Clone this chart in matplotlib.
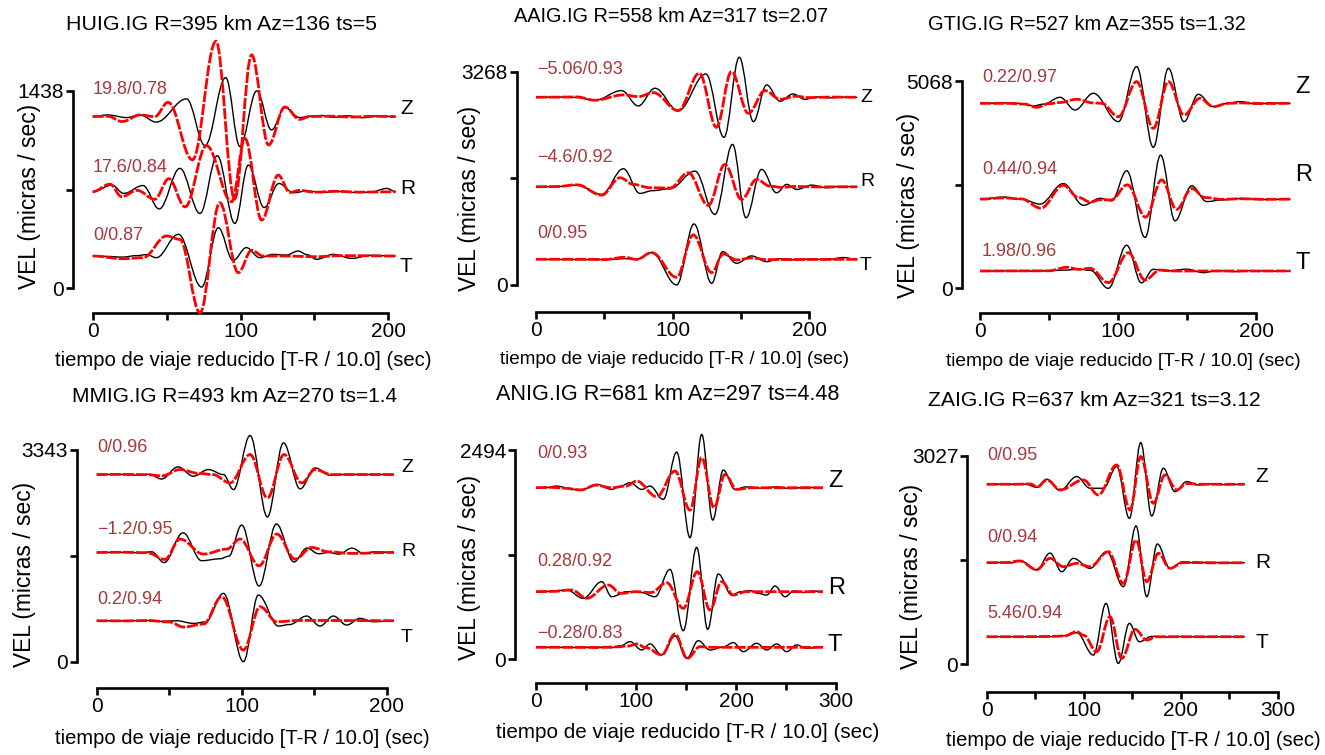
import matplotlib
matplotlib.use("Agg")
import matplotlib.pyplot as plt
import numpy as np
from matplotlib.path import Path
from matplotlib.patches import PathPatch

plt.rcParams["font.family"] = ["Liberation Sans", "DejaVu Sans"]

W, H = 1325, 755

# ---- station info -------------------------------------------------------
TITLES = [
    "HUIG.IG R=395 km Az=136 ts=5",
    "AAIG.IG R=558 km Az=317 ts=2.07",
    "GTIG.IG R=527 km Az=355 ts=1.32",
    "MMIG.IG R=493 km Az=270 ts=1.4",
    "ANIG.IG R=681 km Az=297 ts=4.48",
    "ZAIG.IG R=637 km Az=321 ts=3.12",
]
YMAX = [1438, 3268, 5068, 3343, 2494, 3027]
XMAX = [200, 200, 200, 200, 300, 300]
COMPONENTS = ["Z", "R", "T"]
# time shift / cross-correlation for Z, R, T
SHIFT_CC = [
    ["19.8/0.78", "17.6/0.84", "0/0.87"],
    ["\u22125.06/0.93", "\u22124.6/0.92", "0/0.95"],
    ["0.22/0.97", "0.44/0.94", "1.98/0.96"],
    ["0/0.96", "\u22121.2/0.95", "0.2/0.94"],
    ["0/0.93", "0.28/0.92", "\u22120.28/0.83"],
    ["0/0.95", "0/0.94", "5.46/0.94"],
]

# ---- waveforms: (time [s], velocity [micras/sec]) at the swing extrema ----
HUIG_Z_OBS = [(0, 0), (10, 12), (23, -7), (32, 12), (43, -40), (63.5, 129), (76, -211), (90, 284),
              (99.6, -218), (111, 187), (121, -97), (130, 66), (140, -7), (147, 3), (155, 8),
              (163, -5), (172, 6), (183, -8), (192, 5), (205, 0)]
HUIG_Z_SYN = [(0, 0), (10, 3), (20, -36), (32, 12), (42, 0), (51, 104), (67.5, -315), (83.4, 548),
              (96, -600), (107.5, 449), (119, -206), (130, 70), (140, -20), (147, 0), (160, 3),
              (175, -3), (190, 2), (205, 0)]
HUIG_R_OBS = [(0, 0), (13, 48), (21, -12), (34, 45), (45, -125), (59, 170), (72.6, -158),
              (84.3, 262), (96.2, -231), (105.3, 194), (116, -115), (126, 60), (135.7, -7),
              (145, 5), (155, -5), (165, 3), (175, -5), (188, -3), (199, 24), (205, 0)]
HUIG_R_SYN = [(0, 0), (11.7, 55), (19.6, -36), (30, 10), (42, -55), (51.5, 95), (62.5, -110),
              (77, 335), (94, -73), (103, 388), (114.3, -206), (125.5, 121), (133.4, -5),
              (140, 10), (150, -3), (165, 3), (180, -3), (205, 0)]
HUIG_T_OBS = [(0, 0), (10, -3), (20, -8), (30, 3), (36.5, 10), (43, -12), (58, 158), (73.7, -226),
              (85, 206), (95, -32), (104, 61), (113, -12), (122, 12), (131, 7), (139, 36),
              (145, 10), (151.5, -24), (162.8, 12), (175.2, -17), (188, 5), (205, 0)]
HUIG_T_SYN = [(0, 0), (20.7, -20), (34, -12), (50, 146), (59, 121), (72.6, -413), (86, 388),
              (98.5, -121), (107.5, 41), (115.4, 0), (130, 0), (150, -5), (170, 3), (205, 0)]

AAIG_Z_OBS = [(0, 0), (15, 5), (30, -3), (43, -45), (62.6, 102), (74.8, -133), (87, 138),
              (104, -204), (124.3, 357), (137.5, -613), (148.7, 613), (159, -373), (168.7, 189),
              (178.5, -60), (188, 51), (196.8, -31), (205, 5), (215, -8), (225, 3), (235, 0)]
AAIG_Z_SYN = [(0, 0), (20, 3), (30, 5), (43, -45), (63.9, 36), (75, 10), (85.8, 72), (104, -204),
              (119.5, 368), (132, -460), (143, 393), (155.3, -245), (167.5, 102), (178.5, -31),
              (190, 15), (200, -5), (215, 3), (235, 0)]
AAIG_R_OBS = [(0, 0), (15, 3), (29.8, 25), (48, -117), (63.9, 276), (76, -102), (85, -60),
              (98, -31), (116.3, 240), (130.9, -424), (143.8, 649), (153.6, -475), (165, 266),
              (176, -92), (183.4, 36), (190.7, -41), (201.7, 25), (212.7, -15), (222, 5), (235, 0)]
AAIG_R_SYN = [(0, 0), (15, 3), (30, 30), (48, -128), (61.4, 138), (71.2, 36), (83.4, -15),
              (98, -20), (111.4, 214), (126, -286), (138.2, 342), (150.4, -194), (161.4, 112),
              (171.1, 10), (180, -10), (190, 5), (205, -3), (235, 0)]
AAIG_T_OBS = [(0, 0), (20, -3), (40, -5), (55, 0), (65, 10), (73.6, 0), (84.6, 102), (102.9, -393),
              (115.6, 541), (128.5, -368), (136.5, 117), (146.8, -61), (157.7, 51), (168.7, -36),
              (178, 10), (190, -10), (200, 5), (212, -5), (225, 26), (235, -5)]
AAIG_T_SYN = [(0, 0), (40, 0), (50, -5), (65.1, 31), (73.6, -3), (84.6, 102), (102.9, -276),
              (115, 373), (128.5, -204), (137, 82), (146.8, -10), (157.7, 20), (168.7, -5), (235, 0)]

GTIG_Z_OBS = [(0, 0), (10, 3), (21.7, 15), (32, -10), (38.6, -65), (46, -20), (58, 147),
              (68.9, -163), (82.1, 245), (100.3, -448), (113.5, 897), (125.6, -1076),
              (136.5, 856), (147.8, -448), (158.2, 220), (169.1, -82), (178, -10), (188.4, 41),
              (200.5, -16), (212, 10), (225, 0)]
GTIG_Z_SYN = [(0, 0), (20, 0), (32, -20), (41, -98), (50, -10), (58, 20), (70, 98), (82, 10),
              (88, 0), (100.3, -326), (113.5, 530), (125.6, -611), (136.5, 530), (147.8, -285),
              (159.4, 122), (169.1, -82), (180, 0), (190, 10), (205, -5), (225, 0)]
GTIG_R_OBS = [(0, 0), (17, 50), (30, 0), (43.5, -120), (60.4, 380), (75, -150), (87, 20),
              (95.4, -41), (106.3, 693), (119.6, -937), (130.9, 1076), (141.3, -530), (153.4, 326),
              (164.3, -60), (175, -20), (190, 15), (205, -10), (225, 0)]
GTIG_R_SYN = [(0, 0), (17, 30), (30, 5), (44, -220), (60.4, 340), (71.3, 41), (80, -70),
              (87, -16), (95, -20), (106.8, 350), (120, -440), (131.6, 470), (142.5, -250),
              (153.4, 260), (163, 40), (175, -5), (190, 10), (205, -5), (225, 0)]
GTIG_T_OBS = [(0, 0), (20, 3), (40, -3), (60, 20), (72.5, 41), (80, 15), (93, -424), (106.3, 630),
              (117, -290), (125.6, 41), (135, 0), (149.8, 45), (161.8, -40), (172, 10),
              (185, -15), (198, 10), (212, -5), (225, 0)]
GTIG_T_SYN = [(0, 0), (30, 3), (50, 5), (62.8, 90), (72, 40), (79.7, 65), (93, -285),
              (107.5, 448), (119.6, -220), (130.4, 24), (140, 0), (225, 0)]

MMIG_Z_OBS = [(0, 0), (15, 3), (28, -8), (36, 5), (44.8, -70), (56, 121), (66.7, -26), (77, 79),
              (87.4, 0), (94.3, -237), (105.8, 616), (117.7, -669), (128.8, 500), (140.3, -226),
              (150.6, 105), (161, -10), (175, 3), (205, 0)]
MMIG_Z_SYN = [(0, 0), (20, 3), (35, -3), (45, -20), (57.5, 79), (70, 20), (80, 0), (92, -132),
              (105.8, 316), (117.7, -368), (129.2, 316), (141.4, -132), (150.6, 79), (162, 0),
              (205, 0)]
MMIG_R_OBS = [(0, 0), (15, 3), (30, -5), (38, 10), (46.5, -160), (59.5, 310), (72.4, -130),
              (85, -100), (91, -60), (100, 432), (112, -530), (123.9, 450), (136, -150),
              (145, 68), (153, -20), (160, 0), (167, -26), (176, 68), (184, -15), (192, 10),
              (205, 0)]
MMIG_R_SYN = [(0, 0), (20, 3), (35, -5), (47, -110), (57.5, 211), (73.6, -26), (89.7, 53),
              (98.9, 211), (112, -211), (124.2, 290), (136.8, -105), (148.3, 79), (160, 10),
              (175, -15), (205, 0)]
MMIG_T_OBS = [(0, 0), (20, -3), (35, 5), (45, -10), (55, 0), (66.7, -42), (75, -20), (87.4, 432),
              (101.2, -647), (111.5, 405), (125.3, -84), (133, -60), (144.8, 74), (154, -84),
              (163.2, 74), (172.4, -68), (181.6, 37), (190.8, -16), (205, 0)]
MMIG_T_SYN = [(0, 0), (20, -3), (35, 3), (50, -20), (60, -100), (73.6, -53), (86.2, 379),
              (101.2, -463), (112.7, 221), (124.2, -16), (140, 5), (205, 0)]

ANIG_Z_OBS = [(0, 0), (10, 3), (20.7, 20), (32, -5), (44, -32), (60.7, 40), (75.7, -20), (83, 10),
              (94, 60), (105.7, -20), (114, 20), (127.3, -139), (140.7, 425), (154, -596),
              (165.7, 636), (176.7, -385), (187.3, 211), (199, -20), (210, 10), (225, -5),
              (240, 10), (255, -10), (270, 5), (287, 0)]
ANIG_Z_SYN = [(0, 0), (15, 5), (25, -3), (45, -25), (60, 30), (75, 0), (90, 20), (100.7, 79),
              (120.7, -107), (139, 199), (154, -266), (165.7, 358), (178, -238), (189, 159),
              (200.7, -20), (215, 0), (287, 0)]
ANIG_R_OBS = [(0, 0), (15, 5), (30.7, 20), (47.3, -79), (65.7, 119), (75.7, -60), (90.7, 0),
              (105, -10), (119, -60), (134, 266), (147.3, -465), (160.7, 528), (171.7, -449),
              (182.3, 211), (195.7, -40), (205, 0), (214, 12), (222, -20), (230.7, -40),
              (239, 68), (249, -60), (258, 10), (268, -10), (277, 8), (287, 0)]
ANIG_R_SYN = [(0, 0), (15, 3), (35.7, 20), (50.7, -79), (72.3, 79), (85, -20), (100, 0),
              (115, -10), (130.7, 107), (147.3, -199), (161.3, 238), (174, -218), (185.7, 119),
              (197.3, -40), (210, 0), (287, 0)]
ANIG_T_OBS = [(0, 0), (20, 0), (40, -3), (60, 3), (75, -5), (85, 20), (94, 68), (105.7, -32),
              (114, 40), (125.7, -91), (139, 135), (150.7, -131), (162.3, 79), (174, -32),
              (187.3, 5), (197.3, 56), (207.3, -52), (220.7, 48), (230.7, -32), (240.7, 40),
              (250.7, -52), (260.7, 28), (270, -10), (287, 0)]
ANIG_T_SYN = [(0, 0), (40, 0), (60, -3), (80, 5), (92, 15), (100.7, 40), (110, -5), (125.7, -91),
              (139, 159), (151.3, -131), (164, 8), (175, 0), (287, 0)]

ZAIG_Z_OBS = [(0, 0), (15, 3), (30, 0), (40, 3), (51.5, -44), (61.9, 73), (75.6, -92),
              (92.8, 112), (106.5, -58), (120.3, -58), (134, 257), (147.1, -495), (158.8, 606),
              (170.1, -461), (182.1, 233), (194.1, -107), (206.2, 39), (218.2, -10), (230, 5),
              (245, -5), (266, 0)]
ZAIG_Z_SYN = [(0, 0), (30, 0), (45, 5), (52, -40), (62, 63), (76, -80), (99.7, 63), (115.1, -155),
              (134, 281), (147.8, -373), (158.8, 403), (171.8, -276), (183.8, 136), (195.9, -82),
              (206, 10), (220, 0), (266, 0)]
ZAIG_R_OBS = [(0, 0), (15, 3), (25, -3), (34.4, 29), (51.5, -107), (65.3, 140), (77.3, -131),
              (89.4, 63), (106.5, -82), (123.7, 160), (140.9, -349), (154, 534), (165, -495),
              (175.9, 272), (189, -82), (202.7, 15), (215, -5), (230, 5), (245, -3), (266, 0)]
ZAIG_R_SYN = [(0, 0), (20, 3), (34, 25), (51.5, -100), (65.3, 63), (79, -58), (92.8, -10),
              (106.5, -58), (125.4, 160), (140.9, -301), (154, 330), (165, -276), (177, 136),
              (189, -82), (202, 0), (215, 5), (230, -3), (266, 0)]
ZAIG_T_OBS = [(0, 0), (30, 0), (50, -3), (70, 3), (80, 15), (92.8, 58), (110, -267), (123, 485),
              (135.7, -388), (147.1, 194), (157.4, -73), (170, 5), (185, -5), (200, 3),
              (215, -3), (266, 0)]
ZAIG_T_SYN = [(0, 0), (40, 0), (60, 3), (80, 10), (92.8, 73), (100, 20), (113.4, -218),
              (127.1, 291), (139.2, -315), (152.9, 107), (165, -48), (175, 0), (266, 0)]

OBSERVED = [
    [HUIG_Z_OBS, HUIG_R_OBS, HUIG_T_OBS],
    [AAIG_Z_OBS, AAIG_R_OBS, AAIG_T_OBS],
    [GTIG_Z_OBS, GTIG_R_OBS, GTIG_T_OBS],
    [MMIG_Z_OBS, MMIG_R_OBS, MMIG_T_OBS],
    [ANIG_Z_OBS, ANIG_R_OBS, ANIG_T_OBS],
    [ZAIG_Z_OBS, ZAIG_R_OBS, ZAIG_T_OBS],
]
SYNTHETIC = [
    [HUIG_Z_SYN, HUIG_R_SYN, HUIG_T_SYN],
    [AAIG_Z_SYN, AAIG_R_SYN, AAIG_T_SYN],
    [GTIG_Z_SYN, GTIG_R_SYN, GTIG_T_SYN],
    [MMIG_Z_SYN, MMIG_R_SYN, MMIG_T_SYN],
    [ANIG_Z_SYN, ANIG_R_SYN, ANIG_T_SYN],
    [ZAIG_Z_SYN, ZAIG_R_SYN, ZAIG_T_SYN],
]

# ---- layout (figure pixels) ---------------------------------------------
# x of t=0, px per second, y of amplitude 0, units per px, y-axis x, x-axis y, right, top
GEOM = [
    (92.7, 1.478, 288.3, 7.28, 73.0, 313.0, 420, 40),
    (536.0, 1.367, 285.0, 15.32, 516.7, 311.7, 880, 40),
    (980.0, 1.380, 288.3, 24.45, 961.7, 313.3, 1320, 40),
    (96.7, 1.450, 661.7, 15.79, 76.7, 688.3, 420, 415),
    (536.0, 1.000, 659.3, 11.92, 515.0, 683.3, 880, 415),
    (986.7, 0.970, 664.0, 14.55, 967.3, 691.7, 1320, 415),
]
# trace offsets in each panel (Z, R, T)
OFFSETS = [
    (1250, 703, 235),
    (2876, 1505, 394),
    (4523, 2180, 423),
    (2955, 1725, 647),
    (2045, 806, 143),
    (2615, 1474, 397),
]
TITLE_XY = [(222, 25), (671, 17), (1087, 25), (235, 397), (668, 395), (1094, 400)]
TITLE_SIZE = [15.4, 14.3, 14.4, 15.0, 15.6, 15.2]
XLABEL_XY = [(243, 360), (675, 360), (1123, 362), (242, 738), (688, 732), (1133, 740)]
XLABEL_SIZE = [14.6, 13.6, 13.8, 14.5, 14.9, 14.5]
YLABEL_XY = [(30, 196), (470, 198), (909, 205), (25, 574), (470, 567), (911, 576)]
SHIFT_XY = [
    [(93, 90), (93, 167), (93, 235)],
    [(537, 70), (537, 157), (537, 233)],
    [(982, 77), (982, 169), (982, 251)],
    [(97, 447), (97, 530), (97, 599)],
    [(537, 454), (537, 562), (537, 634)],
    [(987, 456), (987, 537), (987, 613)],
]
COMP_XY = [
    [(400, 108), (400, 188), (400, 267)],
    [(860, 97), (860, 182), (860, 265)],
    [(1295, 87), (1295, 175), (1295, 263)],
    [(401, 467), (401, 552), (401, 637)],
    [(828, 481), (828, 588), (828, 645)],
    [(1255, 477), (1255, 562), (1255, 643)],
]
COMP_SIZE = [15, 14, 17, 14, 17, 15]


def fx(x):
    return x / W


def fy(y):
    return 1 - y / H


def wave_path(pairs, offset):
    # smooth waveform through the extrema, flat tangent at every turning point
    t = [p[0] for p in pairs]
    a = [p[1] + offset for p in pairs]
    verts = [(t[0], a[0])]
    codes = [Path.MOVETO]
    for i in range(1, len(t)):
        dt = t[i] - t[i - 1]
        verts += [(t[i - 1] + 0.37 * dt, a[i - 1]), (t[i] - 0.37 * dt, a[i]), (t[i], a[i])]
        codes += [Path.CURVE4] * 3
    return Path(verts, codes)


fig = plt.figure(figsize=(W / 100, H / 100), dpi=100)

for k in range(6):
    px0, ppx, py0, upx, yax, xax, right, top = GEOM[k]
    ax = fig.add_axes([fx(px0), fy(xax), (right - px0) / W, (xax - top) / H])
    ax.set_xlim(0, (right - px0) / ppx)
    ax.set_ylim((py0 - xax) * upx, (py0 - top) * upx)
    ax.patch.set_visible(False)
    for side in ("top", "right"):
        ax.spines[side].set_visible(False)
    ax.spines["left"].set_position(("outward", (px0 - yax) * 0.72))
    ax.spines["left"].set_bounds(0, YMAX[k])
    ax.spines["bottom"].set_bounds(0, XMAX[k])
    for side in ("left", "bottom"):
        ax.spines[side].set_linewidth(1.9)

    ax.set_yticks([0, YMAX[k] / 2, YMAX[k]])
    ax.set_yticklabels(["0", "", str(YMAX[k])])
    xt = np.arange(0, XMAX[k] + 1, 50)
    ax.set_xticks(xt)
    ax.set_xticklabels([str(v) if v % 100 == 0 else "" for v in xt])
    ax.tick_params(direction="out", length=5, width=1.9, labelsize=15, pad=1.5)

    for c in range(3):
        off = OFFSETS[k][c]
        ax.add_patch(PathPatch(wave_path(OBSERVED[k][c], off), fill=False,
                               edgecolor="black", lw=1.0, zorder=2, clip_on=False))
        ax.add_patch(PathPatch(wave_path(SYNTHETIC[k][c], off), fill=False,
                               edgecolor="#ff0000", lw=2.0, linestyle=(0, (4, 0.7)),
                               zorder=3, clip_on=False))
        sx, sy = SHIFT_XY[k][c]
        fig.text(fx(sx), fy(sy), SHIFT_CC[k][c], color="#a5393b", fontsize=13,
                 ha="left", va="center")
        cx, cy = COMP_XY[k][c]
        fig.text(fx(cx), fy(cy), COMPONENTS[c], fontsize=COMP_SIZE[k],
                 ha="left", va="center")

    tx, ty = TITLE_XY[k]
    fig.text(fx(tx), fy(ty), TITLES[k], fontsize=TITLE_SIZE[k], ha="center", va="center")
    lx, ly = XLABEL_XY[k]
    fig.text(fx(lx), fy(ly), "tiempo de viaje reducido [T-R / 10.0] (sec)",
             fontsize=XLABEL_SIZE[k], ha="center", va="center")
    vx, vy = YLABEL_XY[k]
    fig.text(fx(vx), fy(vy), "VEL (micras / sec)", fontsize=16.4, rotation=90,
             ha="center", va="center")

fig.savefig("out.png", dpi=100)
